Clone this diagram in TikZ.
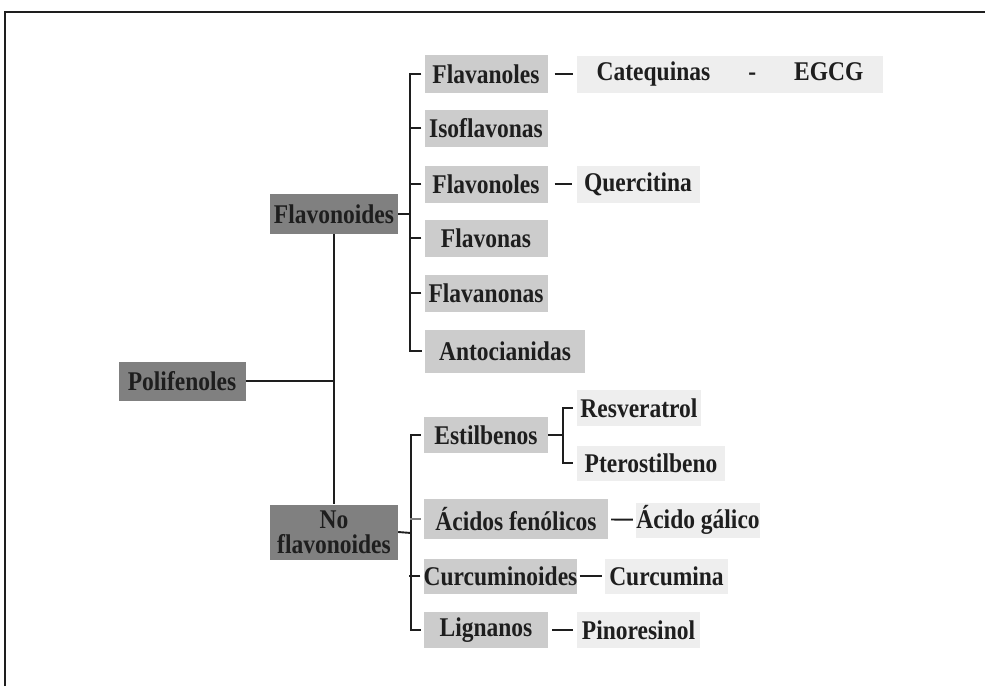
\documentclass[tikz,border=0pt]{standalone}
\usepackage{fontspec}
\setmainfont{Liberation Serif}
\definecolor{dk}{HTML}{808080}
\definecolor{md}{HTML}{CCCCCC}
\definecolor{lt}{HTML}{EEEEEE}
\definecolor{ink}{HTML}{1E1E1E}
\newcommand\tx[1]{\scalebox{1}[1.15]{#1}}
\begin{document}
\begin{tikzpicture}[x=1pt,y=-1pt,
  bx/.style={inner sep=0pt, text=ink, font=\fontsize{23.5}{27}\selectfont\bfseries, align=center},
  dkb/.style={bx, fill=dk},
  mdb/.style={bx, fill=md},
  ltb/.style={bx, fill=lt},
  ln/.style={draw=ink, line width=1.9pt},
  frame/.style={draw=ink, line width=1.5pt}]
\useasboundingbox (0,0) rectangle (985,686);
\draw[frame] (5,686) -- (5,12) -- (985,12);
% level 1
\node[dkb, minimum width=127, minimum height=39] (poli) at (182,381) {\tx{Polifenoles}};
\node[dkb, minimum width=128, minimum height=40] (flav) at (334,214) {\tx{Flavonoides}};
\node[dkb, minimum width=128, minimum height=55] (noflav) at (334,532) {\tx{No}\\[-2pt]\tx{flavonoides}};
% flavonoides children
\node[mdb, minimum width=123, minimum height=38] (flavanoles) at (486,74) {\tx{Flavanoles}};
\node[mdb, minimum width=123, minimum height=37] (isoflav) at (486,128) {\tx{Isoflavonas}};
\node[mdb, minimum width=123, minimum height=37] (flavonoles) at (486,184) {\tx{Flavonoles}};
\node[mdb, minimum width=123, minimum height=37] (flavonas) at (486,238) {\tx{Flavonas}};
\node[mdb, minimum width=123, minimum height=37] (flavanonas) at (486,293) {\tx{Flavanonas}};
\node[mdb, minimum width=160, minimum height=43] (antoc) at (505,351) {\tx{Antocianidas}};
\node[ltb, minimum width=306, minimum height=37] (catequinas) at (730,74) {\tx{Catequinas\hspace{38pt}-\hspace{38pt}EGCG}};
\node[ltb, minimum width=123, minimum height=37] (quercitina) at (638,184) {\tx{Quercitina}};
% no flavonoides children
\node[mdb, minimum width=124, minimum height=36] (estil) at (486,435) {\tx{Estilbenos}};
\node[mdb, minimum width=184, minimum height=40] (acidos) at (516,519) {\tx{Ácidos fenólicos}};
\node[mdb, minimum width=153, minimum height=35] (curcum) at (500.5,576) {\tx{Curcuminoides}};
\node[mdb, minimum width=124, minimum height=36] (lignanos) at (486,630) {\tx{Lignanos}};
\node[ltb, minimum width=124, minimum height=36] (resv) at (639,408) {\tx{Resveratrol}};
\node[ltb, minimum width=148, minimum height=35] (ptero) at (651,463) {\tx{Pterostilbeno}};
\node[ltb, minimum width=124, minimum height=35] (galico) at (698,520) {\tx{Ácido gálico}};
\node[ltb, minimum width=123, minimum height=35] (curcumina) at (666.5,576) {\tx{Curcumina}};
\node[ltb, minimum width=123, minimum height=36] (pino) at (638.5,630) {\tx{Pinoresinol}};
% trunk
\coordinate (j0) at (334,381);
\draw[ln] (poli.east) -- (j0);
\draw[ln] (flav.south) -- (noflav.north);
% flavonoides bracket
\coordinate (b1) at (410,214);
\draw[ln] (flav.east) -- (b1);
\draw[ln] ([xshift=-3pt]flavanoles.west) -| (b1);
\draw[ln] ([xshift=-3pt]antoc.west) -| (b1);
\foreach \n in {isoflav,flavonoles,flavonas,flavanonas}
  \draw[ln] ([xshift=-3pt]\n.west) -- ([xshift=-15pt]\n.west);
% no flavonoides bracket
\coordinate (b2) at (411,533);
\draw[ln] (noflav.east) -- (b2);
\draw[ln] ([xshift=-3pt]estil.west) -| (b2);
\draw[ln] ([xshift=-3pt]lignanos.west) -| (b2);
\draw[ln] ([xshift=-3pt]curcum.west) -- ([xshift=-14pt]curcum.west);
\draw[ln, draw=gray] ([xshift=-3pt]acidos.west) -- ([xshift=-14pt]acidos.west);
% estilbenos bracket
\coordinate (b3) at (563,435);
\draw[ln] (estil.east) -- (b3);
\draw[ln] ([xshift=-4pt]resv.west) -| (b3);
\draw[ln] ([xshift=-4pt]ptero.west) -| (b3);
% leaf links
\draw[ln, shorten <=7pt, shorten >=4pt] (flavanoles) -- (catequinas);
\draw[ln, shorten <=7pt, shorten >=4pt] (flavonoles) -- (quercitina);
\draw[ln, shorten <=3pt, shorten >=3pt] (acidos) -- (galico);
\draw[ln, shorten <=2pt, shorten >=3pt] (curcum) -- (curcumina);
\draw[ln, shorten <=4pt, shorten >=4pt] (lignanos) -- (pino);
\end{tikzpicture}
\end{document}
